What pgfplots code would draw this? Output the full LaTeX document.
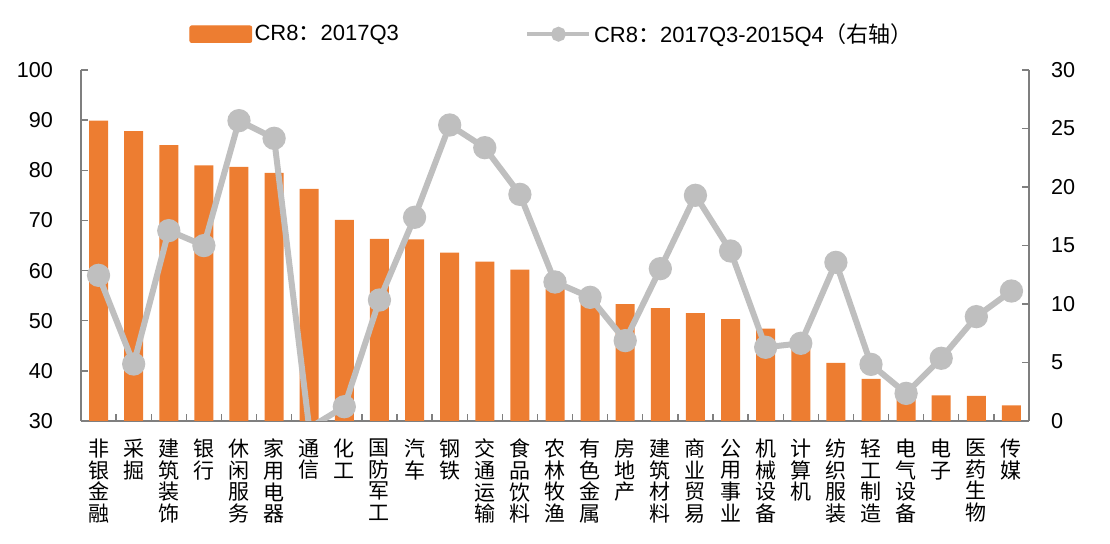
\documentclass[border=0pt]{standalone}
\usepackage{fontspec}
\setmainfont{Liberation Sans}
\newfontfamily\cjk{Noto Sans CJK SC}
\usepackage{pgfplots}
\pgfplotsset{compat=1.18}
\definecolor{barC}{HTML}{ED7D31}
\definecolor{lineC}{HTML}{BFBFBF}
\definecolor{axC}{HTML}{7F7F7F}
\begin{document}
\begin{tikzpicture}
\useasboundingbox (-40.5pt,-61.5pt) rectangle (514.5pt,210.5pt);
\pgfplotsset{
  common/.style={
    width=474pt, height=175.5pt, scale only axis,
    xmin=-0.5, xmax=26.5,
    tick align=inside, major tick length=3.5pt,
    axis line style={draw=axC, line width=0.7pt},
    tick style={draw=axC, line width=0.7pt},
    tick label style={font=\fontsize{10.8}{12}\selectfont},
    /pgf/number format/assume math mode=true,
  }
}
\begin{axis}[common,
  axis x line*=bottom, axis y line*=left,
  ymin=30, ymax=100, ytick={30,40,...,100},
  yticklabel style={xshift=-10.5pt},
  xtick={-0.5,0.5,1.5,2.5,3.5,4.5,5.5,6.5,7.5,8.5,9.5,10.5,11.5,12.5,13.5,14.5,15.5,16.5,17.5,18.5,19.5,20.5,21.5,22.5,23.5,24.5,25.5,26.5},
  xticklabels={{非\\银\\金\\融},{采\\掘},{建\\筑\\装\\饰},{银\\行},{休\\闲\\服\\务},{家\\用\\电\\器},{通\\信},{化\\工},{国\\防\\军\\工},{汽\\车},{钢\\铁},{交\\通\\运\\输},{食\\品\\饮\\料},{农\\林\\牧\\渔},{有\\色\\金\\属},{房\\地\\产},{建\\筑\\材\\料},{商\\业\\贸\\易},{公\\用\\事\\业},{机\\械\\设\\备},{计\\算\\机},{纺\\织\\服\\装},{轻\\工\\制\\造},{电\\气\\设\\备},{电\\子},{医\\药\\生\\物},{传\\媒},{}},
  xticklabel style={font=\cjk\fontsize{10.5}{10.8}\selectfont, align=center, anchor=north, xshift=8.778pt, yshift=-5.5pt},
]
\addplot[ybar, bar width=9.5pt, fill=barC, draw=none] coordinates {
(0,89.9) (1,87.8) (2,85.0) (3,81.0) (4,80.7) (5,79.5) (6,76.3) (7,70.1) (8,66.3) (9,66.2)
(10,63.6) (11,61.8) (12,60.2) (13,56.3) (14,55.5) (15,53.3) (16,52.5) (17,51.5) (18,50.3) (19,48.4)
(20,45.8) (21,41.6) (22,38.4) (23,36.0) (24,35.1) (25,35.0) (26,33.1)};
\end{axis}
\begin{axis}[common,
  axis x line=none, axis y line*=right,
  ymin=0, ymax=30, ytick={0,5,...,30},
  yticklabel style={xshift=7.5pt},
  legend columns=2,
  legend style={at={(axis description cs:0,1)}, anchor=west, xshift=54.2pt, yshift=17.9pt,
    draw=none, fill=none, inner sep=0pt, outer sep=0pt,
    font=\fontsize{11}{12}\selectfont,
    nodes={inner sep=1.2pt},
    /tikz/every even column/.append style={column sep=62pt}},
]
\addlegendimage{legend image code/.code={\fill[barC, rounded corners=1pt] (0pt,-4.2pt) rectangle (31pt,4.2pt);}}
\addlegendentry{CR8{\cjk ：}2017Q3}
\addlegendimage{legend image code/.code={\draw[lineC, line width=2.2pt, mark=*, mark size=2.6pt, mark options={draw=none, fill=lineC}, mark repeat=2, mark phase=2] plot coordinates {(0pt,0pt) (15.5pt,0pt) (31pt,0pt)};}}
\addlegendentry{CR8{\cjk ：}2017Q3-2015Q4{\cjk （右轴）}}
\addplot[forget plot, draw=lineC, line width=3pt, mark=*, mark size=4.3pt, mark options={fill=lineC, draw=none}] coordinates {
(0,12.45) (1,4.87) (2,16.27) (3,14.99) (4,25.67) (5,24.16) (6,-0.6) (7,1.22) (8,10.34) (9,17.41)
(10,25.3) (11,23.36) (12,19.37) (13,11.88) (14,10.57) (15,6.87) (16,13.02) (17,19.29) (18,14.53) (19,6.3)
(20,6.64) (21,13.56) (22,4.84) (23,2.36) (24,5.36) (25,8.92) (26,11.11)};
\end{axis}
\end{tikzpicture}
\end{document}
